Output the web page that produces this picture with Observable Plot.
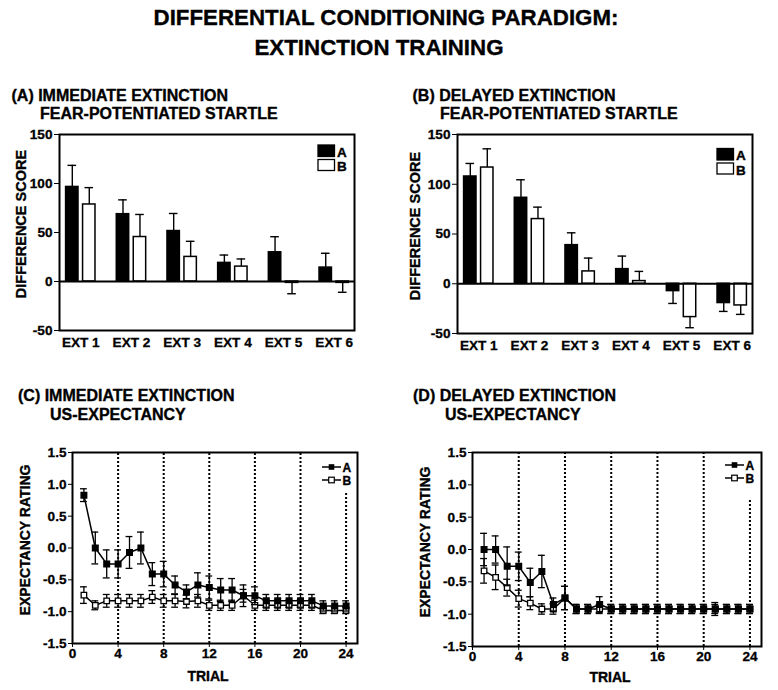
<!DOCTYPE html>
<html>
<head>
<meta charset="utf-8">
<script src="https://cdn.jsdelivr.net/npm/d3@7"></script>
<script src="https://cdn.jsdelivr.net/npm/@observablehq/plot@0.6"></script>
<style>
  body { margin: 0; background: #fff; }
  #root { position: relative; width: 778px; height: 690px; background: #fff; overflow: hidden; }
  #root > .panel { position: absolute; }
  .panel text { font-family: "Liberation Sans", Arial, sans-serif; font-size: 13.6px; font-weight: bold; fill: #000; stroke: #000; stroke-width: 0.3px; }
  #overlay { position: absolute; left: 0; top: 0; pointer-events: none; }
  #overlay text { font-family: "Liberation Sans", Arial, sans-serif; font-weight: bold; fill: #000; stroke: #000; stroke-width: 0.35px; }
</style>
</head>
<body>
<div id="root"></div>
<script>
// ---------- DATA ----------
const categories = ["EXT 1", "EXT 2", "EXT 3", "EXT 4", "EXT 5", "EXT 6"];
const seriesNames = ["A", "B"];

// (A) Immediate extinction, fear-potentiated startle (difference score)
const immStartleA    = [96.5, 68.7, 51.5, 19.0, 29.8, 14.2];
const immStartleA_se = [22.0, 14.6, 17.9, 8.0, 15.9, 14.6];
const immStartleB    = [78.6, 45.4, 25.1, 15.2, -1.4, -1.4];
const immStartleB_se = [17.2, 23.0, 15.9, 7.8, 11.1, 9.6];

// (B) Delayed extinction, fear-potentiated startle
const delStartleA    = [107.8, 86.4, 38.8, 14.7, -7.4, -19.4];
const delStartleA_se = [13.1, 18.1, 12.4, 13.1, 12.4, 8.4];
const delStartleB    = [116.8, 65.0, 12.4, 2.7, -33.5, -21.8];
const delStartleB_se = [18.8, 12.0, 13.4, 9.7, 10.7, 9.0];

// (C) Immediate extinction, US-expectancy ratings, trials 1..24
const trials = d3.range(1, 25);
const immExpA    = [0.83, 0.00, -0.25, -0.25, -0.07, 0.00, -0.41, -0.41, -0.58, -0.69, -0.58, -0.62,
                    -0.66, -0.66, -0.75, -0.75, -0.83, -0.83, -0.83, -0.83, -0.83, -0.91, -0.91, -0.91];
const immExpA_se = [0.10, 0.25, 0.22, 0.22, 0.25, 0.25, 0.18, 0.20, 0.14, 0.11, 0.19, 0.18,
                    0.18, 0.18, 0.17, 0.14, 0.10, 0.10, 0.10, 0.10, 0.10, 0.08, 0.08, 0.08];
const immExpB    = [-0.74, -0.90, -0.83, -0.83, -0.83, -0.83, -0.77, -0.83, -0.83, -0.84, -0.83, -0.90,
                    -0.90, -0.90, -0.75, -0.90, -0.90, -0.90, -0.90, -0.90, -0.90, -0.98, -0.98, -0.98];
const immExpB_se = [0.13, 0.07, 0.10, 0.10, 0.10, 0.10, 0.10, 0.10, 0.10, 0.10, 0.10, 0.08,
                    0.08, 0.08, 0.10, 0.08, 0.08, 0.08, 0.08, 0.08, 0.08, 0.05, 0.05, 0.05];

// (D) Delayed extinction, US-expectancy ratings
const delExpA    = [0.00, 0.00, -0.26, -0.26, -0.51, -0.34, -0.85, -0.75, -0.92, -0.92, -0.85, -0.92,
                    -0.92, -0.92, -0.92, -0.92, -0.92, -0.92, -0.92, -0.92, -0.92, -0.92, -0.92, -0.92];
const delExpA_se = [0.25, 0.21, 0.30, 0.22, 0.22, 0.25, 0.10, 0.18, 0.07, 0.07, 0.12, 0.07,
                    0.07, 0.07, 0.07, 0.07, 0.07, 0.07, 0.07, 0.07, 0.10, 0.07, 0.07, 0.07];
const delExpB    = [-0.33, -0.43, -0.59, -0.76, -0.83, -0.92, -0.92, -0.75, -0.92, -0.92, -0.92, -0.92,
                    -0.92, -0.92, -0.92, -0.92, -0.92, -0.92, -0.92, -0.92, -0.92, -0.92, -0.92, -0.92];
const delExpB_se = [0.19, 0.19, 0.13, 0.13, 0.10, 0.08, 0.08, 0.18, 0.07, 0.07, 0.07, 0.07,
                    0.07, 0.07, 0.07, 0.07, 0.07, 0.07, 0.07, 0.07, 0.07, 0.07, 0.07, 0.07];

const blockTrials = [4, 8, 12, 16, 20, 24];
const trialTicks = [0, 4, 8, 12, 16, 20, 24];

// ---------- HELPERS ----------
const FONT = "'Liberation Sans', Arial, Helvetica, sans-serif";
const root = document.getElementById("root");

function place(node, left, top) {
  node.classList.add("panel");
  node.style.left = left + "px";
  node.style.top = top + "px";
  root.appendChild(node);
}

function barRows(means, ses, series) {
  return means.map((v, i) => ({
    cat: i + 1, series, value: v,
    err: v + Math.sign(v || 1) * ses[i]
  }));
}

function barPanel(meansA, seA, meansB, seB, opts) {
  const rows = [...barRows(meansA, seA, "A"), ...barRows(meansB, seB, "B")];
  const half = 0.045, w = 0.245, cap = 0.085;
  const lo = d => d.series === "A" ? d.cat - half - w : d.cat + half;
  const hi = d => d.series === "A" ? d.cat - half : d.cat + half + w;
  const mid = d => (lo(d) + hi(d)) / 2;
  return Plot.plot({
    width: opts.width, height: opts.height,
    marginLeft: opts.ml, marginRight: opts.mr, marginTop: opts.mt, marginBottom: opts.mb,
    style: {fontFamily: FONT, fontSize: "13.6px", fontWeight: "bold", color: "#000", background: "#fff", overflow: "visible"},
    x: {domain: [0.58, 6.4], ticks: [1, 2, 3, 4, 5, 6], tickFormat: i => categories[i - 1], tickSize: 0, tickPadding: 7, label: null},
    y: {domain: [-50, 150], ticks: [-50, 0, 50, 100, 150], tickFormat: d => String(d), tickSize: 5, tickPadding: 2, label: null},
    marks: [
      Plot.ruleX(rows, {x: mid, y1: "value", y2: "err", stroke: "#000", strokeWidth: 1.4}),
      Plot.ruleY(rows, {y: "err", x1: d => mid(d) - cap, x2: d => mid(d) + cap, stroke: "#000", strokeWidth: 1.4}),
      Plot.rect(rows, {x1: lo, x2: hi, y1: 0, y2: "value",
        fill: d => d.series === "A" ? "#000" : "#fff", stroke: "#000", strokeWidth: 1.5}),
      Plot.ruleY([0], {stroke: "#000", strokeWidth: 1.8}),
      Plot.frame({stroke: "#000", strokeWidth: 2})
    ]
  });
}

function lineRows(means, ses, series) {
  return means.map((v, i) => ({trial: trials[i], series, value: v, lo: v - ses[i], hi: v + ses[i]}));
}

function linePanel(meansA, seA, meansB, seB, lastBlockTop, opts) {
  const A = lineRows(meansA, seA, "A");
  const B = lineRows(meansB, seB, "B");
  const cap = 0.3;
  const blocks = blockTrials.map(t => ({trial: t, top: t === 24 ? lastBlockTop : 1.5}));
  const errMarks = (rows) => [
    Plot.ruleX(rows, {x: "trial", y1: "lo", y2: "hi", stroke: "#000", strokeWidth: 1.3}),
    Plot.ruleY(rows, {y: "lo", x1: d => d.trial - cap, x2: d => d.trial + cap, stroke: "#000", strokeWidth: 1.3}),
    Plot.ruleY(rows, {y: "hi", x1: d => d.trial - cap, x2: d => d.trial + cap, stroke: "#000", strokeWidth: 1.3})
  ];
  return Plot.plot({
    width: opts.width, height: opts.height,
    marginLeft: opts.ml, marginRight: opts.mr, marginTop: opts.mt, marginBottom: opts.mb,
    style: {fontFamily: FONT, fontSize: "13.6px", fontWeight: "bold", color: "#000", background: "#fff", overflow: "visible"},
    x: {domain: [0, 25], ticks: trialTicks, tickFormat: d => String(d), tickSize: 4, tickPadding: 1, label: null},
    y: {domain: [-1.5, 1.5], ticks: [-1.5, -1, -0.5, 0, 0.5, 1, 1.5], tickFormat: d => d.toFixed(1), tickSize: 4, tickPadding: 2, label: null},
    marks: [
      Plot.ruleX(blocks, {x: "trial", y1: -1.5, y2: "top", stroke: "#000", strokeWidth: 2, strokeDasharray: "2,2"}),
      ...errMarks(B),
      Plot.line(B, {x: "trial", y: "value", stroke: "#000", strokeWidth: 1.5}),
      Plot.dot(B, {x: "trial", y: "value", symbol: "square", r: 3.1, fill: "#fff", stroke: "#000", strokeWidth: 1.3}),
      ...errMarks(A),
      Plot.line(A, {x: "trial", y: "value", stroke: "#000", strokeWidth: 1.5}),
      Plot.dot(A, {x: "trial", y: "value", symbol: "square", r: 3.1, fill: "#000", stroke: "#000"}),
      Plot.frame({stroke: "#000", strokeWidth: 2})
    ]
  });
}

// ---------- PANELS ----------
place(barPanel(immStartleA, immStartleA_se, immStartleB, immStartleB_se,
  {width: 390, height: 240, ml: 59, mr: 36, mt: 14, mb: 30}), 0, 120);
place(barPanel(delStartleA, delStartleA_se, delStartleB, delStartleB_se,
  {width: 388, height: 240, ml: 67, mr: 26, mt: 14, mb: 27}), 390, 120);
place(linePanel(immExpA, immExpA_se, immExpB, immExpB_se, 0.87,
  {width: 390, height: 250, ml: 72, mr: 33, mt: 12, mb: 47}), 0, 440);
place(linePanel(delExpA, delExpA_se, delExpB, delExpB_se, 0.76,
  {width: 388, height: 250, ml: 82, mr: 17, mt: 12, mb: 44}), 390, 440);

// ---------- TITLES, AXIS LABELS, LEGENDS ----------
const ns = "http://www.w3.org/2000/svg";
const ov = document.createElementNS(ns, "svg");
ov.setAttribute("id", "overlay");
ov.setAttribute("width", 778);
ov.setAttribute("height", 690);
root.appendChild(ov);

function txt(s, x, y, size, anchor = "start", rotate = false) {
  const t = document.createElementNS(ns, "text");
  t.textContent = s;
  t.setAttribute("font-size", size);
  t.setAttribute("text-anchor", anchor);
  if (rotate) t.setAttribute("transform", `translate(${x},${y}) rotate(-90)`);
  else { t.setAttribute("x", x); t.setAttribute("y", y); }
  ov.appendChild(t);
}
function el(tag, attrs) {
  const e = document.createElementNS(ns, tag);
  for (const k in attrs) e.setAttribute(k, attrs[k]);
  ov.appendChild(e);
}

txt("DIFFERENTIAL CONDITIONING PARADIGM:", 386, 25, 22.3, "middle");
txt("EXTINCTION TRAINING", 379, 55, 22.3, "middle");

txt("(A) IMMEDIATE EXTINCTION", 11.5, 100.7, 16);
txt("FEAR-POTENTIATED STARTLE", 40, 119.3, 16);
txt("(B) DELAYED EXTINCTION", 412.5, 100.7, 16);
txt("FEAR-POTENTIATED STARTLE", 440, 119.3, 16);
txt("(C) IMMEDIATE EXTINCTION", 18, 400.7, 16);
txt("US-EXPECTANCY", 50, 420, 16);
txt("(D) DELAYED EXTINCTION", 413, 400.7, 16);
txt("US-EXPECTANCY", 445, 420, 16);

txt("DIFFERENCE SCORE", 25.5, 224, 14.5, "middle", true);
txt("DIFFERENCE SCORE", 420, 226, 14.5, "middle", true);
txt("EXPECTANCY RATING", 30, 540, 14, "middle", true);
txt("EXPECTANCY RATING", 430, 542, 14, "middle", true);
txt("TRIAL", 208, 680.5, 14, "middle");
txt("TRIAL", 610, 682, 14, "middle");

// bar legends
function barLegend(x, y) {
  el("rect", {x: x, y: y, width: 16.5, height: 11.5, fill: "#000", stroke: "#000", "stroke-width": 1.3});
  txt(seriesNames[0], x + 19, y + 11.5, 13.5);
  el("rect", {x: x, y: y + 14.5, width: 16.5, height: 11, fill: "#fff", stroke: "#000", "stroke-width": 1.3});
  txt(seriesNames[1], x + 19, y + 26, 13.5);
}
barLegend(318, 145);
barLegend(717, 148.5);

// line legends
function lineLegend(x, y) {
  el("line", {x1: x, x2: x + 19, y1: y, y2: y, stroke: "#000", "stroke-width": 1.5});
  el("rect", {x: x + 6.7, y: y - 2.8, width: 5.6, height: 5.6, fill: "#000"});
  txt(seriesNames[0], x + 20.5, y + 4.8, 12);
  el("line", {x1: x, x2: x + 19, y1: y + 13, y2: y + 13, stroke: "#000", "stroke-width": 1.5});
  el("rect", {x: x + 6.7, y: y + 13 - 2.8, width: 5.6, height: 5.6, fill: "#fff", stroke: "#000", "stroke-width": 1.2});
  txt(seriesNames[1], x + 20.5, y + 17.8, 12);
}
lineLegend(322, 467);
lineLegend(725, 465);
</script>
</body>
</html>
